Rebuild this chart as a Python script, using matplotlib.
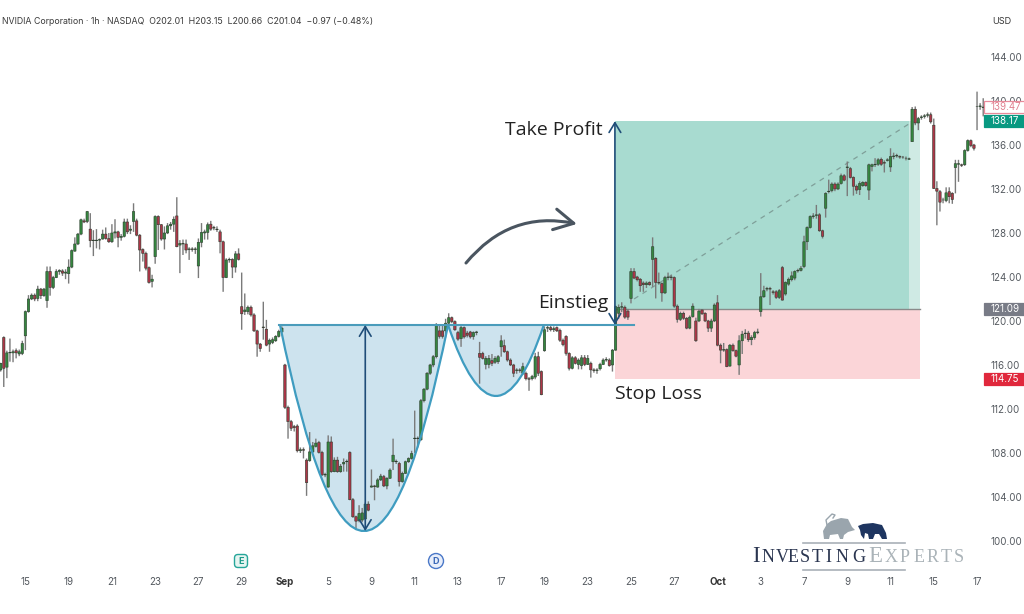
import matplotlib
matplotlib.use('Agg')
import matplotlib.pyplot as plt
from matplotlib.patches import PathPatch, Polygon, Rectangle, FancyBboxPatch
from matplotlib.path import Path

opens = [
    115.55, 118.5, 115.8, 117.1, 117.1, 117.3, 117.0, 117.05, 118.65, 120.85,
    122.0, 122.35, 122.05, 122.9, 122.3, 121.85, 124.5, 123.05, 123.95, 124.5,
    124.55, 124.35, 124.3, 124.9, 126.35, 127.0, 127.9, 129.1, 129.05, 128.35,
    127.35, 127.3, 127.35, 127.45, 127.9, 127.5, 127.2, 128.0, 128.1, 127.6,
    127.7, 129.0, 128.25, 129.05, 129.1, 127.8, 126.5, 126.15, 124.85, 123.6,
    125.85, 129.5, 128.75, 127.45, 128.0, 128.65, 128.8, 129.55, 126.9, 127.05,
    127.0, 126.5, 126.55, 126.5, 125.0, 127.15, 128.0, 128.05, 128.8, 128.5,
    128.35, 128.1, 127.2, 123.95, 125.55, 125.6, 124.9, 126.1, 121.3, 120.85,
    120.85, 121.25, 120.55, 119.1, 117.9, 119.45, 119.25, 117.9, 118.05, 118.2,
    118.6, 119.0, 116.0, 112.15, 110.85, 110.4, 110.45, 108.2, 108.3, 107.35,
    107.3, 108.1, 108.6, 108.95, 108.05, 106.0, 104.9, 109.0, 106.3, 107.35,
    106.3, 107.0, 107.2, 108.05, 103.75, 102.2, 101.85, 101.9, 102.0, 103.35,
    104.9, 105.0, 104.9, 105.55, 105.85, 105.0, 105.7, 107.2, 107.2, 107.05,
    105.4, 106.15, 107.2, 107.5, 109.3, 109.35, 109.2, 112.75, 113.8, 115.25,
    116.0, 116.75, 119.1, 119.1, 119.1, 119.8, 120.3, 119.95, 118.95, 118.4,
    119.4, 118.9, 119.0, 118.6, 118.95, 117.05, 117.05, 116.05, 116.05, 116.4,
    116.25, 116.3, 117.65, 117.75, 117.2, 116.45, 116.0, 115.5, 115.55, 115.25,
    115.25, 114.75, 114.75, 114.9, 116.75, 115.4, 117.3, 119.35, 119.4, 119.2,
    119.4, 119.15, 118.25, 118.6, 117.05, 115.7, 116.65, 116.05, 115.95, 116.65,
    116.05, 116.15, 115.55, 115.5, 115.65, 116.05, 116.45, 116.45, 116.0, 117.35,
    120.7, 121.25, 121.25, 120.9, 122.05, 124.5, 124.0, 123.8, 123.45, 123.3,
    123.5, 125.6, 125.7, 123.5, 123.4, 122.55, 123.95, 124.0, 123.95, 121.35,
    120.15, 120.7, 120.25, 119.35, 120.4, 120.0, 120.0, 121.0, 120.7, 120.0,
    119.35, 120.0, 121.65, 117.8, 117.35, 117.4, 115.9, 117.8, 117.3, 116.0,
    118.2, 118.85, 118.9, 118.3, 118.5, 118.95, 120.85, 122.2, 122.9, 122.95,
    122.65, 122.65, 122.15, 124.85, 122.45, 123.35, 123.75, 123.9, 124.55, 124.6,
    124.95, 127.2, 128.5, 129.5, 129.6, 129.65, 128.2, 130.25, 131.75, 131.85,
    132.45, 132.0, 132.5, 133.2, 133.95, 133.85, 133.05, 132.25, 131.95, 132.3,
    132.6, 131.9, 134.05, 134.2, 134.25, 134.7, 134.4, 134.6, 134.0, 134.95,
    135.0, 134.95, 134.9, 134.8, 134.7, 136.3, 139.25, 138.0, 138.5, 138.6,
    138.7, 138.75, 137.8, 132.05, 131.75, 131.0, 130.95, 131.75, 131.6, 133.95,
    134.25, 134.2, 134.2, 135.5, 136.4, 136.0, 139.5, 139.5, 139.4,
]
highs = [
    116.2, 118.6, 117.3, 118.4, 117.4, 117.5, 117.4, 118.2, 120.95, 122.35,
    122.5, 122.5, 123.2, 123.0, 123.0, 124.95, 124.95, 124.1, 124.7, 124.7,
    124.7, 124.7, 125.6, 126.5, 127.6, 128.0, 129.3, 129.3, 130.0, 129.8,
    128.25, 128.35, 127.5, 128.3, 128.5, 128.0, 128.8, 129.25, 128.2, 127.9,
    129.3, 129.3, 128.7, 130.7, 129.3, 127.9, 126.6, 126.3, 124.95, 124.2,
    129.6, 129.6, 128.8, 128.6, 128.9, 129.0, 129.5, 131.25, 127.35, 127.4,
    127.4, 126.7, 126.7, 126.7, 127.5, 128.9, 128.3, 128.95, 129.1, 128.65,
    128.6, 128.3, 127.3, 125.7, 125.75, 125.7, 126.35, 126.6, 124.4, 122.5,
    121.4, 121.4, 120.7, 119.2, 118.0, 121.75, 120.1, 118.4, 118.5, 118.7,
    119.2, 119.5, 116.1, 112.3, 111.0, 110.55, 110.6, 108.5, 108.5, 107.5,
    109.9, 109.0, 109.3, 109.1, 108.2, 106.2, 109.6, 109.5, 107.6, 107.65,
    107.0, 107.5, 107.4, 108.15, 103.9, 102.3, 103.25, 103.0, 103.5, 103.6,
    106.5, 105.1, 105.7, 106.1, 106.0, 105.8, 106.6, 109.3, 107.4, 107.2,
    106.3, 107.3, 107.6, 108.2, 111.85, 109.5, 112.9, 113.9, 115.35, 116.1,
    116.9, 119.8, 119.65, 119.65, 120.2, 120.7, 120.4, 120.05, 119.1, 119.6,
    119.5, 119.1, 119.1, 119.05, 119.1, 118.1, 117.2, 116.8, 116.9, 117.0,
    116.8, 116.9, 118.7, 118.3, 117.3, 116.6, 116.1, 115.7, 115.7, 116.2,
    115.4, 114.9, 115.1, 117.1, 117.2, 115.5, 119.5, 119.6, 119.55, 119.5,
    119.5, 119.3, 118.4, 118.7, 117.15, 116.8, 116.8, 116.6, 116.9, 116.9,
    116.9, 116.3, 115.7, 115.7, 116.2, 116.6, 116.7, 116.6, 117.45, 121.4,
    121.5, 121.7, 121.4, 121.1, 124.8, 124.8, 124.1, 123.9, 123.6, 123.6,
    123.6, 127.6, 125.8, 124.4, 123.5, 124.1, 124.4, 124.2, 124.05, 121.5,
    120.85, 120.85, 120.35, 120.5, 121.6, 120.3, 121.1, 121.05, 120.8, 120.1,
    120.2, 121.6, 122.35, 117.95, 118.0, 117.5, 117.9, 117.95, 117.4, 118.7,
    119.1, 119.25, 119.1, 118.7, 119.1, 119.3, 124.35, 123.2, 123.1, 123.1,
    122.8, 122.8, 122.9, 125.0, 123.6, 123.95, 124.5, 124.6, 124.75, 125.0,
    127.75, 128.6, 129.6, 129.8, 130.55, 129.8, 128.3, 131.7, 132.85, 132.6,
    132.6, 132.6, 133.4, 133.35, 134.5, 134.0, 133.15, 132.4, 132.7, 132.7,
    132.7, 134.3, 134.3, 134.8, 134.8, 134.85, 134.6, 134.8, 135.7, 135.3,
    135.2, 135.05, 135.0, 134.95, 134.85, 139.45, 139.5, 138.55, 138.7, 138.8,
    138.95, 138.95, 138.4, 132.7, 131.9, 131.2, 132.15, 132.15, 131.7, 134.65,
    134.65, 134.3, 135.6, 136.5, 136.5, 136.1, 140.85, 139.8, 140.25,
]
lows = [
    115.4, 114.0, 114.8, 116.3, 116.25, 116.6, 116.8, 116.9, 117.35, 120.75,
    121.9, 121.8, 121.8, 122.0, 122.2, 121.2, 122.3, 122.9, 123.9, 124.2,
    124.1, 123.8, 123.4, 124.8, 126.3, 126.9, 127.8, 128.9, 128.9, 126.7,
    125.9, 126.6, 126.5, 127.4, 127.4, 127.1, 127.1, 127.5, 126.7, 127.3,
    127.6, 127.9, 127.9, 128.1, 127.7, 124.5, 125.4, 124.6, 123.4, 123.05,
    125.2, 126.45, 127.3, 126.5, 127.9, 128.3, 128.1, 126.7, 124.35, 126.0,
    126.15, 125.55, 126.3, 126.1, 123.9, 126.7, 127.4, 127.4, 128.2, 128.25,
    128.1, 126.15, 122.65, 123.9, 125.3, 123.9, 124.4, 125.5, 119.2, 120.55,
    120.6, 120.4, 119.0, 116.75, 117.2, 118.3, 117.7, 117.2, 117.9, 118.1,
    118.5, 118.95, 112.0, 109.3, 110.0, 109.95, 108.05, 108.0, 107.5, 104.1,
    107.2, 108.0, 108.5, 107.95, 105.9, 105.8, 104.85, 106.2, 106.25, 106.2,
    106.2, 106.3, 106.3, 103.7, 102.1, 101.0, 101.7, 101.7, 101.9, 102.7,
    104.85, 103.7, 104.85, 105.45, 104.9, 104.7, 105.65, 106.45, 107.0, 104.95,
    105.3, 106.1, 107.1, 107.4, 108.0, 108.5, 109.1, 112.6, 113.7, 115.1,
    115.8, 116.6, 118.4, 118.4, 118.5, 119.6, 119.8, 119.1, 118.2, 117.65,
    118.4, 118.5, 118.4, 118.3, 118.7, 114.3, 116.5, 115.6, 115.7, 115.9,
    116.1, 116.1, 116.75, 117.1, 116.3, 115.9, 114.9, 115.2, 115.3, 115.1,
    114.6, 113.65, 114.6, 114.7, 115.0, 113.25, 117.2, 119.0, 119.05, 119.0,
    119.0, 118.1, 117.7, 116.85, 115.5, 115.6, 116.05, 115.6, 115.6, 115.9,
    116.0, 114.85, 115.3, 115.2, 115.5, 116.0, 116.3, 115.85, 115.4, 117.3,
    120.2, 120.8, 120.2, 120.1, 121.6, 123.8, 123.6, 122.65, 122.65, 123.0,
    123.2, 123.1, 122.05, 123.3, 121.75, 122.45, 123.7, 123.7, 121.2, 119.85,
    120.0, 120.1, 119.25, 119.25, 120.3, 118.1, 119.9, 120.55, 119.9, 119.0,
    119.0, 119.9, 117.7, 116.15, 117.2, 115.8, 115.85, 117.2, 116.7, 115.1,
    117.0, 118.4, 118.1, 117.8, 118.3, 118.8, 120.4, 122.1, 122.7, 121.45,
    122.4, 122.0, 122.0, 121.85, 122.3, 123.2, 123.6, 123.7, 124.4, 124.5,
    124.8, 126.45, 128.4, 129.3, 129.3, 128.1, 127.5, 129.4, 131.6, 131.7,
    131.8, 131.9, 132.4, 132.7, 131.35, 132.95, 131.4, 131.55, 131.45, 132.2,
    132.2, 131.0, 133.6, 134.0, 134.1, 134.1, 133.5, 134.5, 133.55, 134.7,
    134.85, 134.75, 134.75, 134.6, 134.65, 136.3, 137.8, 137.35, 138.3, 138.4,
    138.5, 137.95, 132.0, 128.7, 129.95, 130.7, 130.8, 130.7, 130.65, 131.6,
    132.65, 134.0, 134.1, 135.4, 135.8, 135.5, 137.35, 139.2, 138.6,
]
closes = [
    116.15, 115.7, 117.1, 117.15, 117.2, 117.1, 117.2, 117.95, 120.85, 122.0,
    122.35, 122.0, 122.9, 122.3, 122.9, 124.5, 123.05, 123.95, 124.5, 124.6,
    124.35, 124.45, 124.9, 126.4, 127.0, 127.9, 129.2, 129.0, 129.95, 127.3,
    127.3, 127.35, 127.4, 127.9, 127.5, 127.2, 128.0, 128.1, 127.6, 127.7,
    129.0, 128.1, 128.35, 129.95, 127.8, 126.45, 126.15, 124.8, 123.5, 123.8,
    129.5, 128.75, 127.45, 128.0, 128.65, 128.8, 129.25, 126.75, 127.05, 127.0,
    126.45, 126.55, 126.5, 126.55, 127.15, 128.05, 128.1, 128.75, 128.35, 128.45,
    128.3, 127.2, 123.95, 125.55, 125.6, 124.9, 126.1, 125.6, 120.65, 121.0,
    121.25, 120.55, 119.1, 117.9, 117.5, 119.4, 117.8, 118.25, 118.3, 118.6,
    119.05, 119.35, 112.15, 110.85, 110.25, 110.3, 108.2, 108.3, 108.25, 105.3,
    108.1, 108.65, 108.9, 108.05, 106.0, 106.05, 109.0, 106.3, 107.35, 106.3,
    106.8, 107.15, 107.25, 103.75, 102.2, 101.8, 102.5, 102.55, 103.35, 102.8,
    105.0, 104.95, 105.55, 105.9, 105.0, 105.7, 106.45, 107.8, 107.25, 105.4,
    106.15, 107.2, 107.5, 107.95, 109.35, 109.3, 112.75, 113.8, 115.25, 116.0,
    116.75, 119.65, 118.6, 118.6, 119.8, 120.3, 119.95, 119.2, 118.35, 119.4,
    118.55, 118.7, 118.55, 118.95, 119.0, 116.7, 116.6, 116.6, 116.6, 116.15,
    116.6, 116.75, 118.2, 117.2, 116.45, 116.0, 115.25, 115.55, 115.5, 115.85,
    114.75, 114.7, 114.95, 116.75, 115.25, 113.3, 119.2, 119.4, 119.2, 119.3,
    119.1, 118.25, 117.85, 117.05, 115.7, 116.65, 116.15, 116.45, 116.65, 116.05,
    116.6, 115.55, 115.5, 115.55, 116.05, 116.45, 116.5, 115.95, 117.35, 121.3,
    121.25, 121.3, 120.35, 120.35, 124.5, 123.9, 123.75, 123.2, 123.3, 123.45,
    123.3, 126.75, 123.5, 123.45, 122.55, 123.95, 124.0, 123.95, 121.35, 120.15,
    120.7, 120.25, 119.35, 120.35, 121.35, 118.2, 120.9, 120.65, 120.0, 119.35,
    120.0, 121.45, 117.8, 117.35, 117.4, 115.85, 117.8, 117.3, 116.8, 118.2,
    118.8, 118.9, 118.3, 118.5, 118.95, 119.0, 122.2, 122.75, 122.95, 122.9,
    122.6, 122.15, 122.75, 121.9, 123.5, 123.8, 124.1, 124.5, 124.6, 124.8,
    127.2, 128.5, 129.5, 129.55, 129.65, 128.2, 127.7, 131.6, 131.8, 132.45,
    132.0, 132.45, 133.2, 132.8, 134.0, 133.05, 132.25, 131.9, 132.5, 132.6,
    132.3, 134.2, 134.2, 134.25, 134.65, 134.25, 134.35, 134.65, 134.95, 135.0,
    135.05, 134.9, 134.9, 134.8, 134.75, 139.25, 138.0, 138.4, 138.55, 138.65,
    138.75, 138.1, 132.05, 131.8, 130.8, 131.0, 131.65, 131.3, 131.05, 134.3,
    134.3, 134.15, 135.5, 136.4, 135.95, 135.7, 139.5, 139.55, 139.45,
]

price_ticks = [144, 136, 132, 128, 124, 120, 116, 112, 108, 104, 100, 140]
date_tick_bars = [8, 22, 36, 50, 64, 78, 92, 106, 120, 134, 148, 162, 176, 190, 204,
                  218, 232, 246, 260, 274, 288, 302, 316]
date_tick_labels = ['15', '19', '21', '23', '27', '29', 'Sep', '5', '9', '11', '13', '17',
                    '19', '23', '25', '27', 'Oct', '3', '7', '9', '11', '15', '17']

last_price = 139.47
target_price = 138.17
entry_price = 121.09
stop_price = 114.75
neckline = 119.64
cup_low = 100.9
handle_low = 113.18

UP = '#35863f'
DOWN = '#ad3648'
WICK = '#7a7a7a'
EDGE = '#2c3d2e'
LABEL = '#555a60'

fig = plt.figure(figsize=(10.24, 6.14), dpi=100)
ax = fig.add_axes([0, 0, 1, 1])
ax.set_xlim(-0.22, 331.2)
ax.set_ylim(93.36, 149.18)
for side in ax.spines.values():
    side.set_visible(False)

# long/short position box
ax.add_patch(Rectangle((198.8, entry_price), 95.2, target_price - entry_price, fc='#a8dbd0', ec='none', zorder=1))
ax.add_patch(Rectangle((294, entry_price), 3.5, target_price - entry_price, fc='#cfeae4', ec='none', zorder=1))
ax.add_patch(Rectangle((198.8, stop_price), 98.7, entry_price - stop_price, fc='#fbd5d8', ec='none', zorder=1))
ax.plot([198.8, 297.5], [entry_price, entry_price], color='#8a8a8a', lw=1, zorder=2)
ax.plot([205, 295], [122.0, 138.1], color='#7f9f99', lw=0.9, ls=(0, (4, 4)), zorder=2)


def bezier_cup(start, end, low, top):
    # quadratic curve whose midpoint touches the low
    control = 2 * low - top
    return Path([(start, top), ((start + end) / 2, control), (end, top), (start, top)],
                [Path.MOVETO, Path.CURVE3, Path.CURVE3, Path.LINETO])


ax.add_patch(PathPatch(bezier_cup(90.4, 144.8, cup_low, neckline), fc='#cde3ee', ec='none', zorder=1.5))
ax.add_patch(PathPatch(bezier_cup(144.8, 175.8, handle_low, neckline), fc='#cde3ee', ec='none', zorder=1.5))

# candles
bars = range(len(opens))
wicks = ax.vlines(bars, lows, highs, color=WICK, lw=1.0, zorder=3)
wicks.set_snap(False)
heights = [c - o for o, c in zip(opens, closes)]
colours = [UP if c >= o else DOWN for o, c in zip(opens, closes)]
bodies = ax.bar(bars, heights, bottom=opens, width=0.78, color=colours, edgecolor=EDGE, linewidth=0.4, zorder=4)
for body in bodies:
    body.set_snap(False)

# pattern outline on top of the candles
for start, end, low in [(90.4, 144.8, cup_low), (144.8, 175.8, handle_low)]:
    curve = bezier_cup(start, end, low, neckline)
    ax.add_patch(PathPatch(Path(curve.vertices[:3], curve.codes[:3]), fc='none', ec='#3f9cc0', lw=1.6, zorder=5))
ax.plot([90, 205], [neckline, neckline], color='#4a9cbb', lw=1.5, zorder=5)

arrow_props = dict(arrowstyle='<->,head_length=0.7,head_width=0.42', color='#1f4d78', lw=1.2,
                   shrinkA=0, shrinkB=0)
ax.annotate('', xy=(118, neckline), xytext=(118, cup_low), arrowprops=arrow_props, zorder=6)
ax.annotate('', xy=(198.8, target_price), xytext=(198.8, neckline), arrowprops=arrow_props, zorder=6)
ax.annotate('', xy=(186.5, 128.82), xytext=(150.6, 125.27),
            arrowprops=dict(arrowstyle='->,head_length=1.4,head_width=0.75', color='#4a5560', lw=2.2,
                            connectionstyle='arc3,rad=-0.3', shrinkA=0, shrinkB=0), zorder=6)

ax.text(163.3, 137.4, 'Take Profit', fontsize=14, family='Open Sans', color='#222222', va='center', zorder=7)
ax.text(173.9, 121.65, 'Einstieg', fontsize=14, family='Open Sans', color='#222222', va='center', zorder=7)
ax.text(198.9, 113.4, 'Stop Loss', fontsize=14, family='Open Sans', color='#222222', va='center', zorder=7)

# axes labels
ax.yaxis.tick_right()
ax.set_yticks(price_ticks)
ax.set_yticklabels(['%.2f' % p for p in price_ticks])
ax.tick_params(axis='y', length=0, pad=-23.8, labelsize=7, labelcolor=LABEL)
ax.set_xticks(date_tick_bars)
ax.set_xticklabels(date_tick_labels)
ax.tick_params(axis='x', length=0, pad=-26.3, labelsize=7, labelcolor=LABEL)
for label in ax.get_xticklabels():
    label.set_family('Inter')
    if label.get_text() in ('Sep', 'Oct'):
        label.set_fontweight('bold')
        label.set_color('#333333')
for label in ax.get_yticklabels():
    label.set_family('Inter')


def price_tag(price, fc, ec, tc):
    ax.text(320.4, price, '%.2f' % price, fontsize=7, family='Inter', color=tc, va='center', ha='left', zorder=9)
    ax.add_patch(Rectangle((318.2, price - 0.55), 13.2, 1.1, fc=fc, ec=ec, lw=0.9, zorder=8))


price_tag(last_price, 'white', '#e88a9a', '#e0808f')
price_tag(target_price, '#089981', '#089981', 'white')
price_tag(entry_price, '#787b86', '#787b86', 'white')
price_tag(stop_price, '#e0283c', '#e0283c', 'white')

fig.text(2 / 1024, 1 - 21.5 / 614, 'NVIDIA Corporation \u00b7 1h \u00b7 NASDAQ  O202.01  H203.15  L200.66  C201.04  \u22120.97 (\u22120.48%)',
         fontsize=6.33, family='Inter', color='#3a3a3a', va='center')
fig.text(992 / 1024, 1 - 21.5 / 614, 'USD', fontsize=6.6, family='Inter', color='#3a3a3a', va='center')

# overlay in pixel units for the event badges and the logo
over = fig.add_axes([0, 0, 1, 1])
over.set_xlim(0, 1024)
over.set_ylim(614, 0)
over.axis('off')
over.add_patch(FancyBboxPatch((234.5, 554.5), 13, 13, boxstyle='round,pad=0,rounding_size=3.5', fc='#e6f5f1', ec='#26a69a', lw=1))
over.text(241, 561.5, 'E', fontsize=6.5, color='#1d9a8a', ha='center', va='center', family='Inter', weight='bold')
over.add_patch(plt.Circle((436, 561), 7.5, fc='#e8eefa', ec='#4a78c8', lw=1))
over.text(436, 561.5, 'D', fontsize=6.5, color='#3a68b8', ha='center', va='center', family='Inter', weight='bold')

bull = [(824, 539), (823, 531), (827, 524), (831, 521), (841, 518), (848, 519), (852, 527), (855, 530), (848, 532),
        (844, 535), (843, 539), (840, 539), (838, 534), (830, 535), (829, 539)]
bull_tail = [(827, 525), (826, 520), (829, 517), (832, 514), (835, 515), (833, 518)]
bear = [(858, 526), (863, 524), (873, 523), (882, 525), (886, 533), (887, 539), (882, 539), (879, 534), (875, 534),
        (873, 539), (869, 539), (868, 534), (865, 533), (864, 539), (861, 535), (860, 530)]
over.add_patch(Polygon(bull, fc='#9aa5ad', ec='none'))
over.plot(*zip(*bull_tail), color='#9aa5ad', lw=1)
over.add_patch(Polygon(bear, fc='#1e3560', ec='none'))
over.plot([803, 905], [543, 543], color='#a9b0b8', lw=1.2)
over.plot([803, 905], [570, 570], color='#a9b0b8', lw=1.2)

logo_letters = 'INVESTINGEXPERTS'
logo_x = [756, 768, 782, 793, 805, 817, 828, 842, 859, 875, 891, 905, 919, 933, 946, 959]
for n, (ch, x) in enumerate(zip(logo_letters, logo_x)):
    dark = n < 9
    big = n in (0, 9)
    over.text(x, 562, ch, fontsize=16.5 if big else 13, family='Liberation Serif', ha='center', va='baseline',
              color='#2a3550' if dark else '#aab3b8')

fig.savefig('out.png', dpi=100)
